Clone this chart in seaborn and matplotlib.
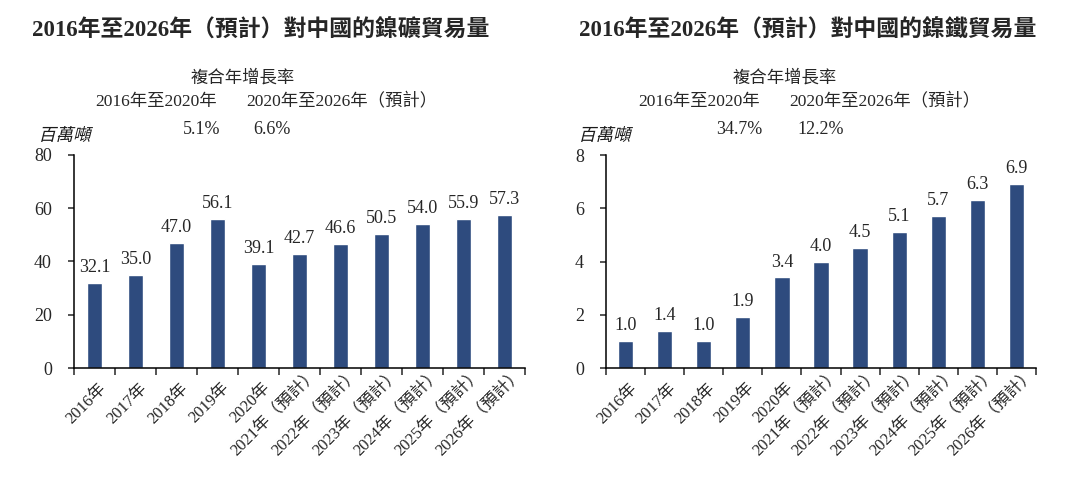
import numpy as np
import pandas as pd
import matplotlib
matplotlib.use('Agg')
from matplotlib import pyplot as plt
import matplotlib.transforms as mtransforms
from matplotlib.textpath import TextPath
from matplotlib.patches import PathPatch
from matplotlib.font_manager import FontProperties
import seaborn as sns

# ### data

years = ['2016年', '2017年', '2018年', '2019年', '2020年',
         '2021年（預計）', '2022年（預計）', '2023年（預計）',
         '2024年（預計）', '2025年（預計）', '2026年（預計）']
ore_volume = [32.1, 35.0, 47.0, 56.1, 39.1, 42.7, 46.6, 50.5, 54.0, 55.9, 57.3]
pig_iron_volume = [1.0, 1.4, 1.0, 1.9, 3.4, 4.0, 4.5, 5.1, 5.7, 6.3, 6.9]
ore_ticks = [0, 20, 40, 60, 80]
pig_iron_ticks = [0, 2, 4, 6, 8]

ore_title = '2016年至2026年（預計）對中國的鎳礦貿易量'
pig_iron_title = '2016年至2026年（預計）對中國的鎳鐵貿易量'
cagr_head = '複合年增長率'
cagr_periods = ['2016年至2020年', '2020年至2026年（預計）']
ore_cagr = ['5.1%', '6.6%']
pig_iron_cagr = ['34.7%', '12.2%']
unit = '百萬噸'

bar_color = '#2E4B7E'

sns.set_style('ticks')
plt.rcParams['font.family'] = ['Liberation Serif', 'Noto Sans CJK TC']
plt.rcParams['axes.unicode_minus'] = False

W, H = 1080, 494
fig = plt.figure(figsize=(W / 100, H / 100), dpi=100)


def fx(x):
    return x / W


def fy(y):
    return 1 - y / H


def slanted_text(x, y, s, size):
    # CJK font has no italic, so shear the glyph outlines by hand
    tp = TextPath((0, 0), s, size=size, prop=FontProperties(family='Noto Sans CJK TC'))
    bb = tp.get_extents()
    tr = (mtransforms.Affine2D().translate(0, -(bb.y0 + bb.y1) / 2)
          .skew_deg(14, 0).scale(100 / 72).translate(x, H - y))
    patch = PathPatch(tp, transform=tr, facecolor='#1a1a1a', edgecolor='none')
    fig.add_artist(patch)


def draw_panel(box, values, yticks, title, cagr, pos):
    x0, y0, x1, y1 = box
    ax = fig.add_axes([fx(x0), fy(y1), (x1 - x0) / W, (y1 - y0) / H])
    df = pd.DataFrame({'year': years, 'value': values})
    sns.barplot(data=df, x='year', y='value', color=bar_color, width=0.39,
                saturation=1, ax=ax)
    ax.bar_label(ax.containers[0], fmt='%.1f', padding=5, fontsize=13)

    ax.set_xlim(-0.5, len(years) - 0.5)
    ax.set_ylim(yticks[0], yticks[-1])
    ax.set_yticks(yticks)
    ax.set_xlabel('')
    ax.set_ylabel('')
    sns.despine(ax=ax)
    for s in ['left', 'bottom']:
        ax.spines[s].set_linewidth(1.1)
        ax.spines[s].set_color('black')

    # ticks on category boundaries, labels on the centres
    ax.set_xticks(np.arange(-0.5, len(years)), [''] * (len(years) + 1))
    ax.set_xticks(np.arange(len(years)), years, minor=True)
    ax.tick_params(axis='x', which='major', length=5, width=1.1, direction='out')
    ax.tick_params(axis='x', which='minor', length=0, pad=2, labelsize=12)
    ax.tick_params(axis='y', length=4, width=1.1, direction='out', pad=12,
                   labelsize=13)
    for lab in ax.get_xticklabels(minor=True):
        lab.set_rotation(45)
        lab.set_ha('right')
        lab.set_va('center')
        lab.set_rotation_mode('anchor')
        # short labels sit lower, as in the source layout
        if '（' in lab.get_text():
            dx, dy = 16, 0
        else:
            dx, dy = 9, -15
        shift = mtransforms.ScaledTranslation(dx / 100, dy / 100, fig.dpi_scale_trans)
        lab.set_transform(lab.get_transform() + shift)

    fig.text(fx(pos['title']), fy(31), title, ha='center', va='center',
             fontsize=16.5, fontweight='bold')
    fig.text(fx(pos['head']), fy(78), cagr_head, ha='center', va='center',
             fontsize=12.5)
    fig.text(fx(pos['p1']), fy(102), cagr_periods[0], ha='center', va='center',
             fontsize=12.5)
    fig.text(fx(pos['p2']), fy(102), cagr_periods[1], ha='center', va='center',
             fontsize=12.5)
    fig.text(fx(pos['v1']), fy(129), cagr[0], ha='right', va='center',
             fontsize=13)
    fig.text(fx(pos['v2']), fy(129), cagr[1], ha='left', va='center',
             fontsize=13)
    slanted_text(pos['unit'], 134, unit, 12.5)
    return ax


draw_panel((74, 155, 525, 368), ore_volume, ore_ticks, ore_title, ore_cagr,
           {'title': 261, 'head': 243, 'p1': 156, 'p2': 342,
            'v1': 220, 'v2': 253, 'unit': 40})
draw_panel((606, 155, 1036, 368), pig_iron_volume, pig_iron_ticks,
           pig_iron_title, pig_iron_cagr,
           {'title': 808, 'head': 785, 'p1': 699, 'p2': 885,
            'v1': 762, 'v2': 797, 'unit': 580})

fig.savefig('out.png', dpi=100, facecolor='white')
